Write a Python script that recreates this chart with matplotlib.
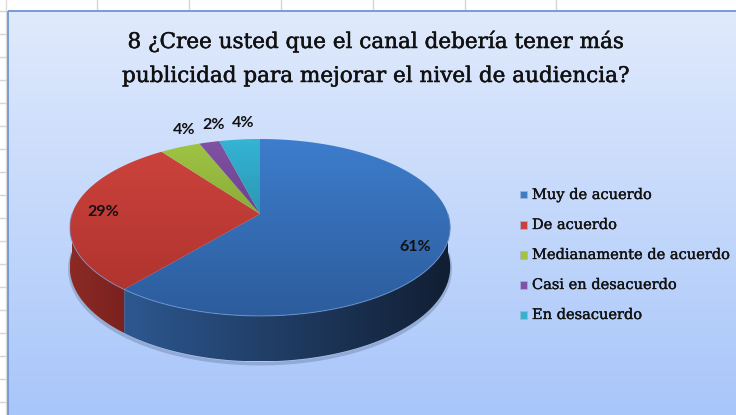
import numpy as np
import matplotlib.pyplot as plt
import matplotlib.patheffects as pe
from matplotlib.patches import Polygon, Rectangle
from matplotlib.colors import to_rgb

# data
title_lines = ['8 ¿Cree usted que el canal debería tener más',
               'publicidad para mejorar el nivel de audiencia?']
categories = ['Muy de acuerdo', 'De acuerdo', 'Medianamente de acuerdo',
              'Casi en desacuerdo', 'En desacuerdo']
values = [61, 29, 4, 2, 4]

# colours (top surface gradient, side wall gradient, legend box)
top_hi = ['#3d7dcc', '#cc423c', '#9fc444', '#8052a3', '#35b4d4']
top_lo = ['#2c5c9c', '#b0342f', '#8aab38', '#6c418c', '#2a97b3']
side_l = ['#2d5890', '#8c2a25', '#7a9a33', '#5f3c7a', '#2689a3']
side_r = ['#111e33', '#7a221e', '#6a8a2b', '#50326a', '#1e7189']
legend_colors = ['#3e7cc6', '#c9403b', '#a5c23f', '#8151a6', '#37b1cd']

fig = plt.figure(figsize=(7.36, 4.15), dpi=100)
ax = fig.add_axes([0, 0, 1, 1])
ax.axis('off')

# spreadsheet grid behind the chart
for gx in [97, 189, 281, 373, 465, 556]:
    ax.plot([gx, gx], [0, 12], color='#d6d6d6', lw=1, zorder=0)
ax.plot([5.5, 5.5], [0, 415], color='#dcdcdc', lw=1, zorder=0)
for gy in np.arange(11, 415, 23):
    ax.plot([0, 8], [gy, gy], color='#d6d6d6', lw=1, zorder=0)

# chart area background gradient
n = 256
t = np.linspace(0, 1, n)[:, None]
bg = (1 - t) * np.array(to_rgb('#e0eafc')) + t * np.array(to_rgb('#a8c6fa'))
ax.imshow(bg[:, None, :], extent=(8, 736, 415, 12), origin='upper',
          aspect='auto', zorder=1, interpolation='bilinear')
ax.add_patch(Rectangle((7.5, 11.5), 740, 420, fill=False,
                       edgecolor='#6f95cf', lw=1.3, zorder=2))


# pie geometry (perspective ellipse)
xc, yc = 260, 214
w, h = 188, 86.4
p = 0.1525
depth = 38.5


def proj(phi, r=1.0, dz=0.0):
    phi = np.radians(phi)
    u, v = r * np.cos(phi), r * np.sin(phi)
    s = 1.0 / (1 + p * v)
    return xc + w * u * s, yc - h * v * s + dz * s


def grad_fill(pts, c0, c1, horizontal, z):
    poly = Polygon(pts, closed=True, facecolor='none', edgecolor='none', zorder=z)
    ax.add_patch(poly)
    k = np.linspace(0, 1, 256)[:, None]
    cols = (1 - k) * np.array(to_rgb(c0)) + k * np.array(to_rgb(c1))
    img = cols[None, :, :] if horizontal else cols[:, None, :]
    im = ax.imshow(img, extent=(pts[:, 0].min(), pts[:, 0].max(),
                                pts[:, 1].max(), pts[:, 1].min()),
                   origin='upper', aspect='auto', zorder=z,
                   interpolation='bilinear')
    im.set_clip_path(poly)


total = float(sum(values))
angles = []
start = 90.0
for v in values:
    sweep = 360.0 * v / total
    angles.append((start, start - sweep))
    start -= sweep

# soft shadow under the pie
ph = np.linspace(180, 360, 120)
sx, sy = proj(ph, dz=depth + 2)
ax.plot(sx, sy, color='#5a6f90', lw=2.5, alpha=0.35, zorder=2.5)

# side walls (front half only)
for i, (t0, t1) in enumerate(angles):
    for a, b in [(-180, 0), (180, 360), (-540, -360)]:
        lo, hi = max(t1, a), min(t0, b)
        if lo < hi:
            ph = np.linspace(lo, hi, 120)
            x1, y1 = proj(ph)
            x2, y2 = proj(ph[::-1], dz=depth)
            pts = np.column_stack([np.r_[x1, x2], np.r_[y1, y2]])
            grad_fill(pts, side_l[i], side_r[i], True, 3)

# top slices
for i, (t0, t1) in enumerate(angles):
    ph = np.linspace(t0, t1, 200)
    x, y = proj(ph)
    pts = np.column_stack([np.r_[xc, x], np.r_[yc, y]])
    grad_fill(pts, top_hi[i], top_lo[i], False, 4)

# rim highlight
ph = np.linspace(180, 360, 200)
rx_, ry_ = proj(ph)
ax.plot(rx_, ry_, color='#7aa3dc', lw=0.8, alpha=0.6, zorder=5)

# percentage labels
for i, (t0, t1) in enumerate(angles):
    mid = (t0 + t1) / 2
    txt = '%d%%' % round(100 * values[i] / total)
    if values[i] >= 10:
        lx, ly = proj(mid, r=0.84)
        if np.sin(np.radians(mid)) < 0:
            ly += 7
    else:
        lx, ly = proj(mid)
        lx += 4
        ly -= 17
    ax.text(lx, ly, txt, ha='center', va='center', fontsize=11.5,
            fontweight='bold', family=['Lato', 'DejaVu Sans'],
            color='#111111', zorder=6)

# title
heavy = [pe.withStroke(linewidth=0.35, foreground='#111111')]
ax.text(376, 48, title_lines[0], ha='center', va='baseline',
        fontsize=15.5, family='DejaVu Serif', color='#111111', zorder=6,
        path_effects=heavy)
ax.text(376, 82, title_lines[1], ha='center', va='baseline',
        fontsize=15.5, family='DejaVu Serif', color='#111111', zorder=6,
        path_effects=heavy)

# legend
for i, name in enumerate(categories):
    ly = 195 + 30 * i
    ax.add_patch(Rectangle((519.5, ly - 4), 7.5, 7.5, facecolor=legend_colors[i],
                           edgecolor='#9fb6d8', lw=0.5, zorder=6))
    ax.text(532, ly, name, ha='left', va='center', fontsize=10.5,
            family='DejaVu Serif', color='#111111', zorder=6,
            path_effects=[pe.withStroke(linewidth=0.25, foreground='#111111')])

ax.set_xlim(0, 736)
ax.set_ylim(415, 0)
fig.savefig('out.png', dpi=100, facecolor='white')
